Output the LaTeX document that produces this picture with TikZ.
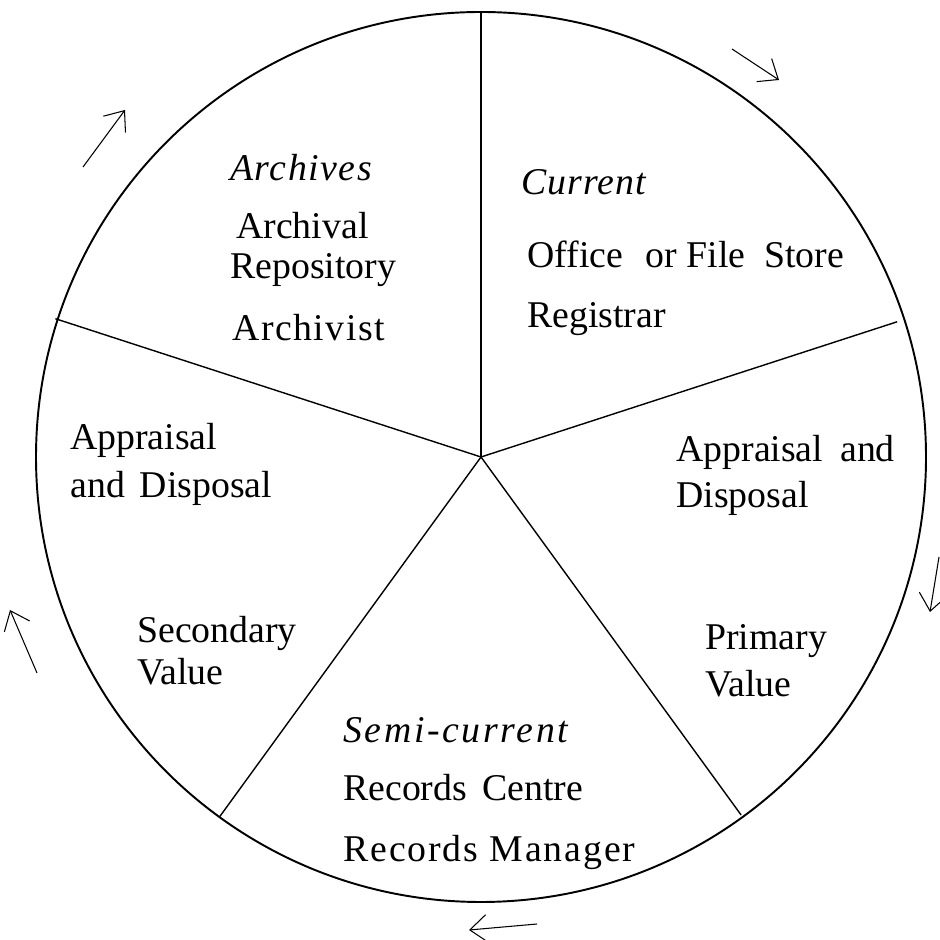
\documentclass[tikz,border=0pt]{standalone}
\usepackage{fontspec}
\setmainfont{Liberation Serif}
\usetikzlibrary{arrows.meta, calc}
\newcommand{\spread}[2]{{\addfontfeature{LetterSpace=#1}#2}}
\begin{document}
\begin{tikzpicture}[
    lbl/.style={anchor=base west, inner sep=0pt, font=\fontsize{21.5}{24}\selectfont},
    flow/.style={line width=0.6pt, -{Straight Barb[length=0.34cm, width=0.55cm, line width=0.6pt]}}
  ]
  \useasboundingbox (0, 0) rectangle (18.8, 18.8);
  %%wheel
  \coordinate (c) at (9.62, 9.66);
  \draw[line width=1.1pt] (c) circle (8.9);
  \coordinate (s1) at ($(c)+(90:8.9)$);
  \coordinate (s2) at ($(c)+(18:8.75)$);
  \coordinate (s3) at ($(c)+(-54:8.85)$);
  \coordinate (s4) at ($(c)+(-126:8.9)$);
  \coordinate (s5) at ($(c)+(162:8.95)$);
  \foreach \s in {s1, s2, s3, s4, s5}
    \draw[line width=0.8pt] (c) to (\s);

  %%archives
  \node[lbl] (arch) at (4.60, 15.18) {\textit{\spread{4}{Archives}}};
  \node[lbl] (arch1) at (4.72, 14.02) {Archival};
  \node[lbl] (arch2) at (4.60, 13.22) {Repository};
  \node[lbl] (arch3) at (4.64, 11.98) {\spread{4}{Archivist}};

  %%current
  \node[lbl] (cur) at (10.42, 14.90) {\textit{\spread{3}{Current}}};
  \node[lbl] (cur1) at (10.54, 13.44) {Office\hspace{0.35em} or File\hspace{0.25em} Store};
  \node[lbl] (cur2) at (10.54, 12.24) {Registrar};

  %%primary
  \node[lbl] (app1) at (13.52, 9.56) {Appraisal\hspace{0.2em} and};
  \node[lbl] (app2) at (13.52, 8.64) {Disposal};
  \node[lbl] (prim1) at (14.10, 5.80) {Primary};
  \node[lbl] (prim2) at (14.10, 4.86) {Value};

  %%semi-current
  \node[lbl] (semi) at (6.86, 3.94) {\textit{\spread{7}{Semi-current}}};
  \node[lbl] (semi1) at (6.86, 2.78) {Records\hspace{0.15em} Centre};
  \node[lbl] (semi2) at (6.86, 1.56) {\spread{5}{Records Manager}};

  %%secondary
  \node[lbl] (dis1) at (1.40, 9.80) {Appraisal};
  \node[lbl] (dis2) at (1.40, 8.84) {and\hspace{0.15em} Disposal};
  \node[lbl] (sec1) at (2.74, 5.94) {Secondary};
  \node[lbl] (sec2) at (2.74, 5.10) {Value};

  %%cycle arrows
  \coordinate (a1) at (1.66, 15.46);  \coordinate (b1) at (2.50, 16.60);
  \coordinate (a2) at (14.64, 17.82); \coordinate (b2) at (15.58, 17.20);
  \coordinate (a3) at (18.78, 7.66);  \coordinate (b3) at (18.60, 6.56);
  \coordinate (a4) at (10.74, 0.32);  \coordinate (b4) at (9.38, 0.20);
  \coordinate (a5) at (0.74, 5.34);   \coordinate (b5) at (0.20, 6.60);
  \foreach \i in {1,...,5}
    \draw[flow] (a\i) to (b\i);
\end{tikzpicture}
\end{document}
